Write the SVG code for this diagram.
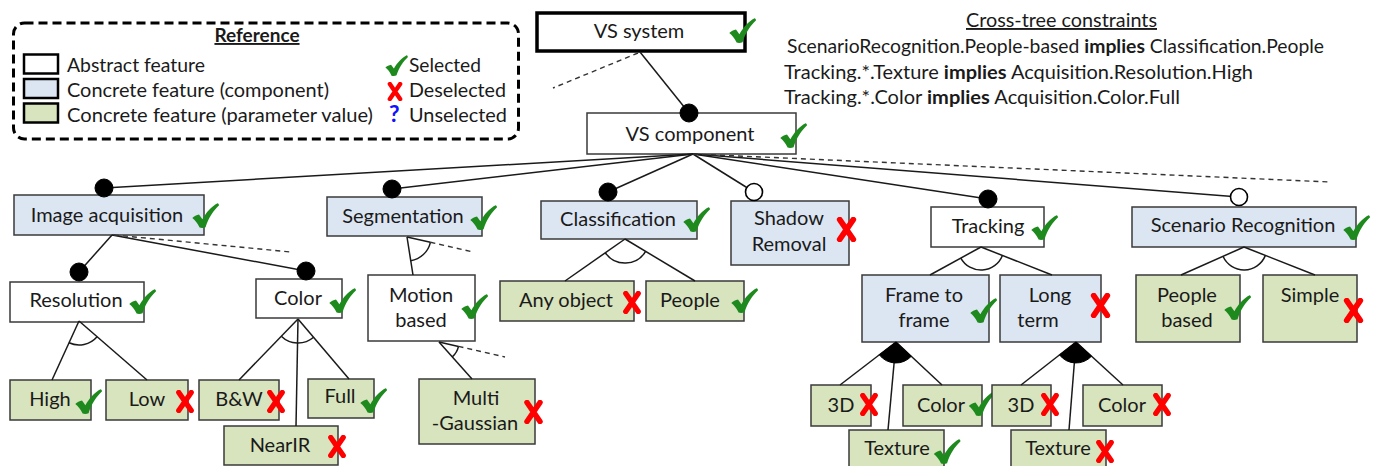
<svg xmlns="http://www.w3.org/2000/svg" xmlns:xlink="http://www.w3.org/1999/xlink" width="1380" height="466" viewBox="0 0 1380 466">
<style>
text{font-family:Lato,"Liberation Sans",sans-serif;fill:#1a1a1a}
.n{font-size:20px;text-anchor:middle}
.lg{font-size:19px}
.ct{font-size:19px}
.abs{fill:#fff;stroke:#3a3a3a;stroke-width:1.5}
.cmp{fill:#dce6f2;stroke:#3a3a3a;stroke-width:1.5}
.par{fill:#d7e4bd;stroke:#3a3a3a;stroke-width:1.5}
.ln{stroke:#1a1a1a;stroke-width:1.5;fill:none}
.ds{stroke:#333;stroke-width:1.4;fill:none;stroke-dasharray:5 4}
.arc{stroke:#1a1a1a;stroke-width:1.5;fill:none}
.wedge{fill:#000;stroke:#000;stroke-width:1}
.mand{fill:#000;stroke:#000;stroke-width:1}
.opt{fill:#fff;stroke:#000;stroke-width:1.6}
</style>
<defs>
<symbol id="chk" viewBox="0 0 27 25">
<path d="M0.3,15 C2.2,13.2 4.5,12 7,11.6 L10.4,16.2 C14,9.5 19.5,3.5 25.5,0.2 C26.6,0.4 27.1,1.4 26.9,2.6 C21.5,7.5 16.5,15 13.6,24.2 C12,25.1 9.2,25.2 7.6,24.6 C5.6,20.2 3,17.2 0.3,15 Z" fill="#1e8a1e"/>
</symbol>
<symbol id="xx" viewBox="0 0 20 24">
<path d="M3.5,2.5 L16.5,21.5 M16.5,2.5 L3.5,21.5" stroke="#f00" stroke-width="5.5" stroke-linecap="round" fill="none"/>
</symbol>
</defs>
<rect width="1380" height="466" fill="#fff"/>

<g id="legend">
<rect x="13.5" y="23" width="505" height="116" rx="11" fill="#fff" stroke="#000" stroke-width="3" stroke-dasharray="9 5"/>
<text x="257" y="42" font-size="19" font-weight="bold" text-anchor="middle" text-decoration="underline">Reference</text>
<rect x="24" y="54.5" width="34" height="19" fill="#fff" stroke="#000" stroke-width="2.5"/>
<rect x="24" y="79" width="34" height="19" fill="#dce6f2" stroke="#000" stroke-width="2.5"/>
<rect x="24" y="103.5" width="34" height="19" fill="#d7e4bd" stroke="#000" stroke-width="2.5"/>
<text class="lg" x="67" y="72" textLength="138" lengthAdjust="spacingAndGlyphs">Abstract feature</text>
<text class="lg" x="67" y="97" textLength="262" lengthAdjust="spacingAndGlyphs">Concrete feature (component)</text>
<text class="lg" x="67" y="122" textLength="306" lengthAdjust="spacingAndGlyphs">Concrete feature (parameter value)</text>
<use href="#chk" x="385" y="55" width="23" height="21"/>
<use href="#xx" x="387" y="82" width="16" height="19"/>
<text x="389" y="122" font-size="23" font-weight="bold" style="fill:#1010ff">?</text>
<text class="lg" x="409" y="72" textLength="72" lengthAdjust="spacingAndGlyphs">Selected</text>
<text class="lg" x="409" y="97" textLength="97" lengthAdjust="spacingAndGlyphs">Deselected</text>
<text class="lg" x="409" y="122" textLength="98" lengthAdjust="spacingAndGlyphs">Unselected</text>
</g>

<g id="constraints">
<text class="ct" x="966" y="27" textLength="191" lengthAdjust="spacingAndGlyphs" text-decoration="underline">Cross-tree constraints</text>
<text class="ct" x="787" y="53" textLength="537" lengthAdjust="spacingAndGlyphs">ScenarioRecognition.People-based <tspan font-weight="bold">implies</tspan> Classification.People</text>
<text class="ct" x="784" y="79" textLength="469" lengthAdjust="spacingAndGlyphs">Tracking.*.Texture <tspan font-weight="bold">implies</tspan> Acquisition.Resolution.High</text>
<text class="ct" x="784" y="104" textLength="396" lengthAdjust="spacingAndGlyphs">Tracking.*.Color <tspan font-weight="bold">implies</tspan> Acquisition.Color.Full</text>
</g>

<g id="vs-system">
<rect x="537" y="13" width="208" height="38" fill="#fff" stroke="#000" stroke-width="3.5"/>
<text class="n" x="639" y="38">VS system</text>
<use href="#chk" x="729" y="18" width="27" height="25"/>
</g>
<g id="vs-component">
<rect class="abs" x="587" y="113" width="209" height="41"/>
<text class="n" x="690" y="141">VS component</text>
<use href="#chk" x="780" y="123" width="27" height="25"/>
</g>
<g id="image-acquisition">
<rect class="cmp" x="14" y="195" width="190" height="40"/>
<text class="n" x="107" y="222">Image acquisition</text>
<use href="#chk" x="192" y="203" width="27" height="25"/>
</g>
<g id="segmentation">
<rect class="cmp" x="327" y="197" width="155" height="39"/>
<text class="n" x="403" y="223">Segmentation</text>
<use href="#chk" x="470" y="205" width="27" height="25"/>
</g>
<g id="classification">
<rect class="cmp" x="541" y="201" width="156" height="38"/>
<text class="n" x="618" y="226">Classification</text>
<use href="#chk" x="683" y="207" width="27" height="25"/>
</g>
<g id="shadow-removal">
<rect class="cmp" x="731" y="201" width="118" height="64"/>
<text class="n" x="789" y="225">Shadow</text>
<text class="n" x="789" y="251">Removal</text>
<use href="#xx" x="836" y="217" width="21" height="25"/>
</g>
<g id="tracking">
<rect class="abs" x="931" y="207" width="113" height="40"/>
<text class="n" x="988" y="233">Tracking</text>
<use href="#chk" x="1031" y="215" width="27" height="25"/>
</g>
<g id="scenario-recognition">
<rect class="cmp" x="1132" y="207" width="224" height="40"/>
<text class="n" x="1243" y="232">Scenario Recognition</text>
<use href="#chk" x="1343" y="215" width="27" height="25"/>
</g>
<g id="resolution">
<rect class="abs" x="10" y="282" width="134" height="40"/>
<text class="n" x="76" y="307">Resolution</text>
<use href="#chk" x="129" y="289" width="27" height="25"/>
</g>
<g id="color">
<rect class="abs" x="256" y="279" width="86" height="39"/>
<text class="n" x="298" y="305">Color</text>
<use href="#chk" x="329" y="288" width="27" height="25"/>
</g>
<g id="motion-based">
<rect class="abs" x="368" y="275" width="107" height="66"/>
<text class="n" x="421" y="302">Motion</text>
<text class="n" x="421" y="327">based</text>
<use href="#chk" x="461" y="294" width="27" height="25"/>
</g>
<g id="high">
<rect class="par" x="10" y="380" width="81" height="40"/>
<text class="n" x="50" y="406">High</text>
<use href="#chk" x="75" y="389" width="27" height="25"/>
</g>
<g id="low">
<rect class="par" x="106" y="380" width="82" height="40"/>
<text class="n" x="147" y="406">Low</text>
<use href="#xx" x="175" y="390" width="20" height="23"/>
</g>
<g id="bw">
<rect class="par" x="199" y="380" width="80" height="40"/>
<text class="n" x="239" y="406">B&amp;W</text>
<use href="#xx" x="266" y="390" width="20" height="23"/>
</g>
<g id="full">
<rect class="par" x="308" y="379" width="66" height="39"/>
<text class="n" x="340" y="403">Full</text>
<use href="#chk" x="360" y="388" width="27" height="25"/>
</g>
<g id="nearir">
<rect class="par" x="224" y="426" width="114" height="39"/>
<text class="n" x="280" y="452">NearIR</text>
<use href="#xx" x="327" y="435" width="20" height="23"/>
</g>
<g id="multi-gaussian">
<rect class="par" x="419" y="379" width="116" height="65"/>
<text class="n" x="476" y="405">Multi</text>
<text class="n" x="475" y="430">-Gaussian</text>
<use href="#xx" x="523" y="400" width="21" height="24"/>
</g>
<g id="any-object">
<rect class="par" x="500" y="281" width="134" height="40"/>
<text class="n" x="566" y="307">Any object</text>
<use href="#xx" x="622" y="291" width="20" height="23"/>
</g>
<g id="people">
<rect class="par" x="646" y="281" width="98" height="40"/>
<text class="n" x="690" y="307">People</text>
<use href="#chk" x="731" y="288" width="27" height="25"/>
</g>
<g id="frame-to-frame">
<rect class="cmp" x="862" y="275" width="127" height="67"/>
<text class="n" x="924" y="302">Frame to</text>
<text class="n" x="924" y="327">frame</text>
<use href="#chk" x="970" y="298" width="27" height="25"/>
</g>
<g id="long-term">
<rect class="cmp" x="1000" y="275" width="101" height="67"/>
<text class="n" x="1050" y="302">Long</text>
<text class="n" x="1038" y="327">term</text>
<use href="#xx" x="1090" y="293" width="21" height="25"/>
</g>
<g id="people-based">
<rect class="par" x="1136" y="275" width="104" height="67"/>
<text class="n" x="1187" y="302">People</text>
<text class="n" x="1187" y="327">based</text>
<use href="#chk" x="1224" y="295" width="27" height="25"/>
</g>
<g id="simple">
<rect class="par" x="1263" y="275" width="94" height="67"/>
<text class="n" x="1310" y="302">Simple</text>
<use href="#xx" x="1343" y="298" width="21" height="25"/>
</g>
<g id="ff-3d">
<rect class="par" x="811" y="385" width="60" height="41"/>
<text class="n" x="841" y="412">3D</text>
<use href="#xx" x="859" y="393" width="20" height="23"/>
</g>
<g id="ff-color">
<rect class="par" x="903" y="385" width="79" height="41"/>
<text class="n" x="941" y="412">Color</text>
<use href="#chk" x="968" y="391" width="28" height="25"/>
</g>
<g id="ff-texture">
<rect class="par" x="849" y="430" width="95" height="40"/>
<text class="n" x="897" y="455">Texture</text>
<use href="#chk" x="933" y="439" width="28" height="25"/>
</g>
<g id="lt-3d">
<rect class="par" x="992" y="385" width="59" height="41"/>
<text class="n" x="1021" y="412">3D</text>
<use href="#xx" x="1040" y="393" width="20" height="23"/>
</g>
<g id="lt-color">
<rect class="par" x="1083" y="385" width="79" height="41"/>
<text class="n" x="1122" y="412">Color</text>
<use href="#xx" x="1152" y="393" width="20" height="23"/>
</g>
<g id="lt-texture">
<rect class="par" x="1011" y="430" width="95" height="40"/>
<text class="n" x="1058" y="455">Texture</text>
<use href="#xx" x="1095" y="440" width="20" height="23"/>
</g>

<g id="connectors">
<line class="ln" x1="640" y1="52" x2="689" y2="113"/>
<line class="ds" x1="638" y1="53" x2="553" y2="88"/>
<line class="ln" x1="693" y1="154" x2="104" y2="188"/>
<line class="ln" x1="693" y1="154" x2="392" y2="189"/>
<line class="ln" x1="693" y1="154" x2="608" y2="192"/>
<line class="ln" x1="693" y1="154" x2="754" y2="192"/>
<line class="ln" x1="693" y1="154" x2="988" y2="199"/>
<line class="ln" x1="693" y1="154" x2="1239" y2="197"/>
<line class="ds" x1="693" y1="154" x2="1330" y2="182"/>
<line class="ln" x1="112" y1="235" x2="79" y2="272"/>
<line class="ln" x1="112" y1="235" x2="306" y2="271"/>
<line class="ds" x1="114" y1="235" x2="291" y2="252"/>
<line class="ln" x1="79" y1="321" x2="52" y2="380"/>
<line class="ln" x1="79" y1="321" x2="147" y2="380"/>
<path class="arc" d="M69,342.8 A24,24 0 0 0 97.1,336.7"/>
<line class="ln" x1="298" y1="319" x2="239" y2="380"/>
<line class="ln" x1="298" y1="319" x2="296" y2="426"/>
<line class="ln" x1="298" y1="319" x2="349" y2="379"/>
<path class="arc" d="M281.3,336.2 A24,24 0 0 0 313.6,337.3"/>
<line class="ln" x1="407" y1="237" x2="413" y2="275"/>
<line class="ln" x1="407" y1="237" x2="430.4" y2="242.3"/>
<line class="ds" x1="430.4" y1="242.3" x2="473" y2="252"/>
<path class="arc" d="M410.7,260.7 A24,24 0 0 0 430.4,242.3"/>
<line class="ln" x1="439" y1="342" x2="472" y2="379"/>
<line class="ln" x1="439" y1="342" x2="458.5" y2="346.4"/>
<line class="ds" x1="458.5" y1="346.4" x2="505" y2="357"/>
<path class="arc" d="M452.3,356.9 A20,20 0 0 0 458.5,346.4"/>
<line class="ln" x1="625" y1="239" x2="565" y2="281"/>
<line class="ln" x1="625" y1="239" x2="695" y2="281"/>
<path class="arc" d="M605.3,252.8 A24,24 0 0 0 645.6,251.4"/>
<line class="ln" x1="981" y1="247" x2="930" y2="275"/>
<line class="ln" x1="981" y1="247" x2="1052" y2="275"/>
<path class="arc" d="M960.8,258.1 A23,23 0 0 0 1002.4,255.4"/>
<line class="ln" x1="1244" y1="247" x2="1181" y2="275"/>
<line class="ln" x1="1244" y1="247" x2="1315" y2="275"/>
<path class="arc" d="M1223,256.3 A23,23 0 0 0 1265.4,255.4"/>
<line class="ln" x1="896" y1="342" x2="840" y2="385"/>
<line class="ln" x1="896" y1="342" x2="888" y2="430"/>
<line class="ln" x1="896" y1="342" x2="942" y2="385"/>
<path class="wedge" d="M896,342 L879.3,354.8 A21,21 0 0 0 911.3,356.3 Z"/>
<line class="ln" x1="1076" y1="342" x2="1021" y2="385"/>
<line class="ln" x1="1076" y1="342" x2="1069" y2="430"/>
<line class="ln" x1="1076" y1="342" x2="1123" y2="385"/>
<path class="wedge" d="M1076,342 L1059.5,354.9 A21,21 0 0 0 1091.5,356.2 Z"/>
<circle class="mand" cx="689" cy="113" r="9"/>
<circle class="mand" cx="104" cy="188" r="9"/>
<circle class="mand" cx="392" cy="189" r="9"/>
<circle class="mand" cx="608" cy="192" r="9"/>
<circle class="opt" cx="754" cy="192" r="8.5"/>
<circle class="mand" cx="988" cy="199" r="9"/>
<circle class="opt" cx="1239" cy="197" r="8.5"/>
<circle class="mand" cx="79" cy="272" r="9"/>
<circle class="mand" cx="306" cy="271" r="9"/>
</g>
</svg>
